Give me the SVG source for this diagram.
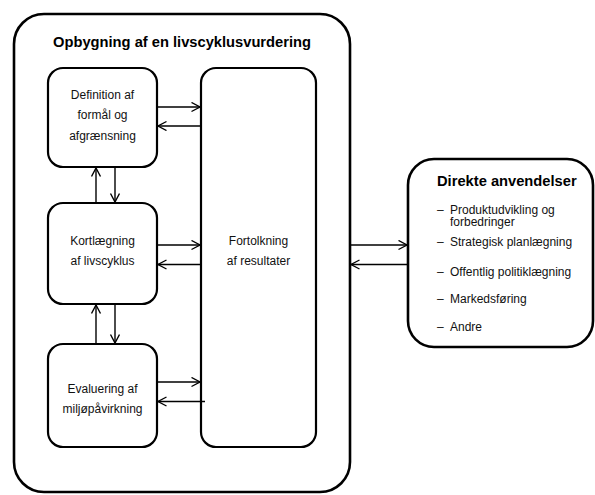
<svg xmlns="http://www.w3.org/2000/svg" width="595" height="495" viewBox="0 0 595 495">
  <defs>
    <marker id="open-arrow" markerUnits="userSpaceOnUse" markerWidth="12" markerHeight="12" refX="9.5" refY="5" orient="auto">
      <path d="M1,0.5 L9.5,5 L1,9.5" fill="none" stroke="#000" stroke-width="1.4"/>
    </marker>
  </defs>
  <style>
    .frame { fill: #fff; stroke: #000; stroke-width: 2.6; }
    .box { fill: #fff; stroke: #000; stroke-width: 2.2; }
    .title { font-family: "Liberation Sans", Arial, sans-serif; font-weight: bold; font-size: 14.7px; fill: #000; }
    .label { font-family: "Liberation Sans", Arial, sans-serif; font-size: 12px; fill: #111; text-anchor: middle; }
    .item { font-family: "Liberation Sans", Arial, sans-serif; font-size: 12px; fill: #111; }
    .conn { fill: none; stroke: #000; stroke-width: 1.4; marker-end: url(#open-arrow); }
  </style>
  <rect width="595" height="495" fill="#fff"/>

  <!-- outer frame: structure of a life cycle assessment -->
  <g id="lca-frame">
    <rect class="frame" x="14" y="14" width="336" height="478" rx="30" ry="30"/>
    <text class="title" x="182" y="46.5" text-anchor="middle">Opbygning af en livscyklusvurdering</text>
  </g>

  <g id="definition">
    <rect class="box" x="48" y="68" width="109" height="99" rx="15" ry="15"/>
    <text class="label" x="102.5" y="98.5">Definition af</text>
    <text class="label" x="102.5" y="119">formål og</text>
    <text class="label" x="102.5" y="140">afgrænsning</text>
  </g>

  <g id="kortlaegning">
    <rect class="box" x="48" y="203" width="109" height="101" rx="15" ry="15"/>
    <text class="label" x="102.5" y="245.3">Kortlægning</text>
    <text class="label" x="102.5" y="265.3">af livscyklus</text>
  </g>

  <g id="evaluering">
    <rect class="box" x="48" y="344" width="109" height="103" rx="15" ry="15"/>
    <text class="label" x="102.5" y="392.7">Evaluering af</text>
    <text class="label" x="102.5" y="413.3">miljøpåvirkning</text>
  </g>

  <g id="fortolkning">
    <rect class="box" x="201" y="68" width="115" height="379" rx="15" ry="15"/>
    <text class="label" x="258.5" y="245.3">Fortolkning</text>
    <text class="label" x="258.5" y="265.3">af resultater</text>
  </g>

  <g id="direkte-anvendelser">
    <rect class="frame" x="408" y="159" width="185" height="188" rx="26" ry="26"/>
    <text class="title" x="437" y="185.5">Direkte anvendelser</text>
    <text class="item" y="213.5"><tspan x="437">–</tspan><tspan x="450">Produktudvikling og</tspan><tspan x="450" dy="12">forbedringer</tspan></text>
    <text class="item" y="245.5"><tspan x="437">–</tspan><tspan x="450">Strategisk planlægning</tspan></text>
    <text class="item" y="275.5"><tspan x="437">–</tspan><tspan x="450">Offentlig politiklægning</tspan></text>
    <text class="item" y="303"><tspan x="437">–</tspan><tspan x="450">Markedsføring</tspan></text>
    <text class="item" y="330.5"><tspan x="437">–</tspan><tspan x="450">Andre</tspan></text>
  </g>

  <g id="connectors">
    <!-- definition <-> interpretation -->
    <path class="conn" d="M157,107 H200"/>
    <path class="conn" d="M201,126 H158"/>
    <!-- definition <-> inventory -->
    <path class="conn" d="M96,203 V168"/>
    <path class="conn" d="M115,167 V202"/>
    <!-- inventory <-> interpretation -->
    <path class="conn" d="M157,245 H200"/>
    <path class="conn" d="M201,264.5 H158"/>
    <!-- inventory <-> assessment -->
    <path class="conn" d="M96,344 V305"/>
    <path class="conn" d="M115,304 V343"/>
    <!-- assessment <-> interpretation -->
    <path class="conn" d="M157,382 H200"/>
    <path class="conn" d="M205,401.5 H158"/>
    <!-- frame <-> direct applications -->
    <path class="conn" d="M351,245 H407"/>
    <path class="conn" d="M407,264.5 H351"/>
  </g>
</svg>
